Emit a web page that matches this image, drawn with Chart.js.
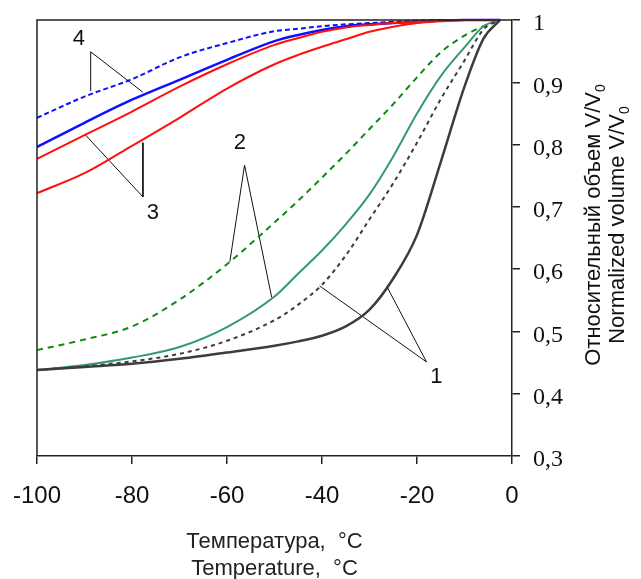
<!DOCTYPE html>
<html>
<head>
<meta charset="utf-8">
<script src="https://cdn.jsdelivr.net/npm/chart.js@4.4.1/dist/chart.umd.min.js"></script>
<style>
  html, body { margin: 0; padding: 0; background: #fff; }
</style>
</head>
<body>
<canvas id="chart" width="641" height="579"></canvas>
<script>
// temperatures, °C
const temps = [-100, -90, -80, -70, -60, -50, -45, -40, -35, -30, -25, -20, -15, -10, -6, -2.5];

// normalized volume V/V0 for each curve
const s1Solid = [0.438, 0.443, 0.448, 0.456, 0.466, 0.477, 0.484, 0.493, 0.508, 0.535, 0.585, 0.655, 0.772, 0.893, 0.970, 1.0];
const s1Dash  = [0.438, 0.444, 0.452, 0.464, 0.485, 0.518, 0.543, 0.575, 0.622, 0.680, 0.738, 0.803, 0.873, 0.935, 0.985, 1.0];
const s2Solid = [0.438, 0.446, 0.458, 0.475, 0.507, 0.556, 0.593, 0.630, 0.672, 0.720, 0.781, 0.850, 0.910, 0.956, 0.990, 1.0];
const s2Dash  = [0.470, 0.487, 0.508, 0.551, 0.608, 0.675, 0.710, 0.747, 0.785, 0.825, 0.865, 0.908, 0.948, 0.975, 0.990, 1.0];
const s3Lower = [0.722, 0.754, 0.798, 0.843, 0.890, 0.929, 0.944, 0.957, 0.969, 0.981, 0.989, 0.995, 0.998, 1.0, 1.0, 1.0];
const s3Upper = [0.777, 0.815, 0.853, 0.893, 0.929, 0.960, 0.971, 0.981, 0.988, 0.992, 0.995, 0.997, 0.999, 1.0, 1.0, 1.0];
const s4Solid = [0.796, 0.835, 0.872, 0.904, 0.936, 0.966, 0.976, 0.984, 0.990, 0.993, 0.995, 0.997, 0.999, 1.0, 1.0, 1.0];
const s4Dash  = [0.843, 0.877, 0.905, 0.940, 0.963, 0.982, 0.986, 0.990, 0.993, 0.995, 0.997, 0.999, 1.0, 1.0, 1.0, 1.0];

// callout numbers and their leader lines (data coordinates)
const calloutText = ['1', '2', '3', '4'];
const calloutAt = [[-15.9, 0.427], [-57.3, 0.803], [-75.6, 0.690], [-91.2, 0.970]];
const leaders = [
  [[-40.5, 0.573], [-18.0, 0.451], [-26.4, 0.573]],
  [[-59.4, 0.612], [-56.3, 0.767], [-50.6, 0.555]],
  [[-77.7, 0.803], [-77.7, 0.716], [-90.0, 0.817]],
  [[-88.7, 0.886], [-88.7, 0.949], [-77.7, 0.884]]
];

const xTicks = [-100, -80, -60, -40, -20, 0];
const xTitle = ['Температура,  °C', 'Temperature,  °C'];
const yTitle = ['Относительный объем V/V', 'Normalized volume V/V'];

function pts(vals) {
  return temps.map((t, i) => ({ x: t, y: vals[i] }));
}

function curve(vals, color, width, dash) {
  return {
    data: pts(vals),
    borderColor: color,
    borderWidth: width,
    borderDash: dash || [],
    pointRadius: 0,
    cubicInterpolationMode: 'monotone',
    clip: false
  };
}

const datasets = [
  curve(s1Solid, '#3c3c3c', 2.5),
  curve(s1Dash, '#3c3c3c', 2, [4, 4]),
  curve(s2Solid, '#349a6c', 2),
  curve(s2Dash, '#0b8a14', 2, [6, 5]),
  curve(s3Lower, '#ff1010', 2),
  curve(s3Upper, '#ff1010', 2),
  curve(s4Solid, '#1010ff', 2.5),
  curve(s4Dash, '#1010ff', 2, [5, 3])
];

leaders.forEach(l => {
  datasets.push({
    data: l.map(p => ({ x: p[0], y: p[1] })),
    borderColor: '#111',
    borderWidth: 1,
    pointRadius: 0,
    tension: 0
  });
});

// no extra room for overhanging tick labels: the layout padding sets the plot box
function fitBox(size, key) {
  return s => {
    s[key] = size;
    s.paddingLeft = 0; s.paddingRight = 0; s.paddingTop = 0; s.paddingBottom = 0;
  };
}

const extras = {
  id: 'extras',
  afterDraw(chart) {
    const ctx = chart.ctx;
    const a = chart.chartArea;
    const xs = chart.scales.x, ys = chart.scales.y;
    ctx.save();

    // left and top frame lines
    ctx.strokeStyle = '#222';
    ctx.lineWidth = 1.5;
    ctx.beginPath();
    ctx.moveTo(a.left, a.bottom);
    ctx.lineTo(a.left, a.top);
    ctx.lineTo(a.right, a.top);
    ctx.stroke();

    // callout numbers
    ctx.fillStyle = '#111';
    ctx.font = '22px "Liberation Sans", Arial, sans-serif';
    ctx.textAlign = 'center';
    ctx.textBaseline = 'middle';
    calloutText.forEach((t, i) => {
      ctx.fillText(t, xs.getPixelForValue(calloutAt[i][0]), ys.getPixelForValue(calloutAt[i][1]));
    });

    // rotated y title with subscript 0
    const cy = 225;
    const lineX = [594, 618];
    yTitle.forEach((t, i) => {
      ctx.save();
      ctx.translate(lineX[i], cy);
      ctx.rotate(-Math.PI / 2);
      ctx.font = '22px "Liberation Sans", Arial, sans-serif';
      const w = ctx.measureText(t).width;
      ctx.font = '14px "Liberation Sans", Arial, sans-serif';
      const ws = ctx.measureText('0').width;
      const x0 = -(w + ws) / 2;
      ctx.textAlign = 'left';
      ctx.textBaseline = 'middle';
      ctx.font = '22px "Liberation Sans", Arial, sans-serif';
      ctx.fillText(t, x0, 0);
      ctx.font = '14px "Liberation Sans", Arial, sans-serif';
      ctx.fillText('0', x0 + w, 7);
      ctx.restore();
    });
    ctx.restore();
  }
};

new Chart(document.getElementById('chart'), {
  type: 'line',
  data: { datasets: datasets },
  options: {
    responsive: false,
    animation: false,
    layout: { padding: { left: 37, top: 20, right: 0, bottom: 0 } },
    plugins: { legend: { display: false }, tooltip: { enabled: false } },
    scales: {
      x: {
        type: 'linear',
        min: -100,
        max: 0,
        afterBuildTicks: s => { s.ticks = xTicks.map(v => ({ value: v })); },
        afterFit: fitBox(123, 'height'),
        grid: { drawOnChartArea: false, tickLength: 8, color: '#222', lineWidth: 1.5 },
        border: { color: '#222', width: 1.5 },
        ticks: {
          padding: 18,
          color: '#111',
          font: { family: '"Liberation Sans", Arial, sans-serif', size: 24 },
          maxRotation: 0
        },
        title: {
          display: true,
          text: xTitle,
          color: '#222',
          padding: { top: 0, bottom: -3 },
          font: { family: '"Liberation Sans", Arial, sans-serif', size: 22, lineHeight: '27px' }
        }
      },
      y: {
        type: 'linear',
        position: 'right',
        min: 0.3,
        max: 1,
        afterFit: fitBox(129, 'width'),
        grid: { drawOnChartArea: false, tickLength: 8, color: '#222', lineWidth: 1.5 },
        border: { color: '#222', width: 1.5 },
        ticks: {
          stepSize: 0.1,
          padding: 13,
          labelOffset: 4,
          color: '#111',
          font: { family: '"Liberation Serif", "Times New Roman", serif', size: 24 },
          callback: v => Math.abs(v - 1) < 1e-9 ? '1' : v.toFixed(1).replace('.', ',')
        }
      }
    }
  },
  plugins: [extras]
});
</script>
</body>
</html>
